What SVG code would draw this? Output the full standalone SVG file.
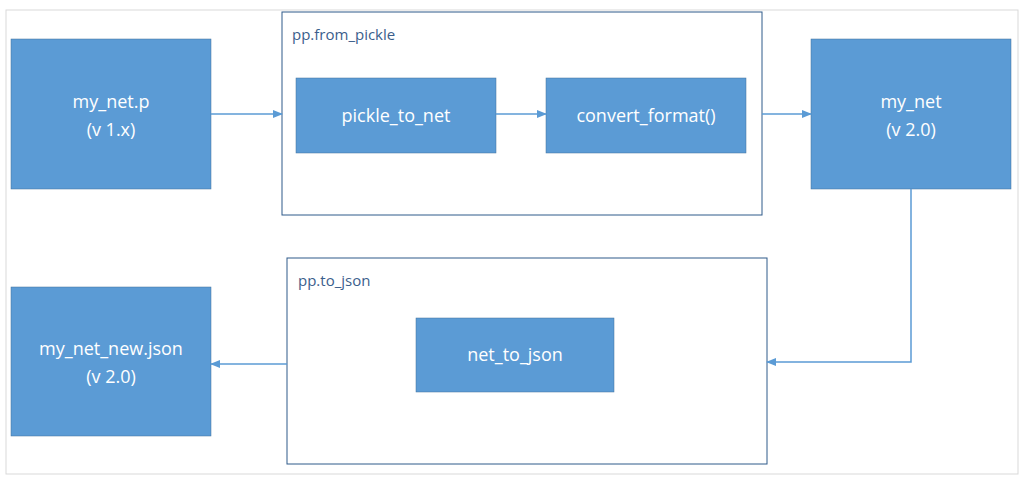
<svg xmlns="http://www.w3.org/2000/svg" width="1030" height="484" viewBox="0 0 1030 484">
<style>
.n{fill:#5B9BD5;stroke:#41719C;stroke-width:0.5}
.t{fill:#fff;font-family:"Open Sans","Liberation Sans",sans-serif;font-size:18px;text-anchor:middle}
.g{fill:#fff;stroke:#2E5A8A;stroke-width:1}
.l{fill:#3B5E8C;font-family:"Open Sans","Liberation Sans",sans-serif;font-size:15px}
.c{fill:none;stroke:#5B9BD5;stroke-width:1.5;marker-end:url(#a)}
</style>
<defs><marker id="a" markerWidth="10" markerHeight="8" refX="9" refY="4" orient="auto" markerUnits="userSpaceOnUse"><path d="M0,0L10,4L0,8z" fill="#5B9BD5"/></marker></defs>
<rect x="0" y="0" width="1030" height="484" fill="#fff"/>
<rect x="6" y="10" width="1012" height="464" fill="none" stroke="#D9D9D9"/>
<g id="from_pickle"><rect class="g" x="282" y="12" width="480" height="203"/><text class="l" x="292" y="40">pp.from_pickle</text></g>
<g id="to_json"><rect class="g" x="287" y="258" width="480" height="206"/><text class="l" x="298" y="286">pp.to_json</text></g>
<g id="my_net_p"><rect class="n" x="11" y="39" width="200" height="150"/><text class="t" x="111" y="108">my_net.p</text><text class="t" x="111" y="136">(v 1.x)</text></g>
<g id="pickle_to_net"><rect class="n" x="296" y="78" width="200" height="75"/><text class="t" x="396" y="122">pickle_to_net</text></g>
<g id="convert_format"><rect class="n" x="546" y="78" width="200" height="75"/><text class="t" x="646" y="122">convert_format()</text></g>
<g id="my_net"><rect class="n" x="811" y="39" width="200" height="150"/><text class="t" x="911" y="108">my_net</text><text class="t" x="911" y="136">(v 2.0)</text></g>
<g id="net_to_json"><rect class="n" x="416" y="318" width="198" height="74"/><text class="t" x="515" y="361">net_to_json</text></g>
<g id="my_net_new"><rect class="n" x="11" y="287" width="200" height="149"/><text class="t" x="111" y="355">my_net_new.json</text><text class="t" x="111" y="383">(v 2.0)</text></g>
<g id="connectors">
<path class="c" d="M211,114H282"/>
<path class="c" d="M496,114H546"/>
<path class="c" d="M762,114H811"/>
<path class="c" d="M911,189V362H767"/>
<path class="c" d="M287,364H211"/>
</g>
</svg>
